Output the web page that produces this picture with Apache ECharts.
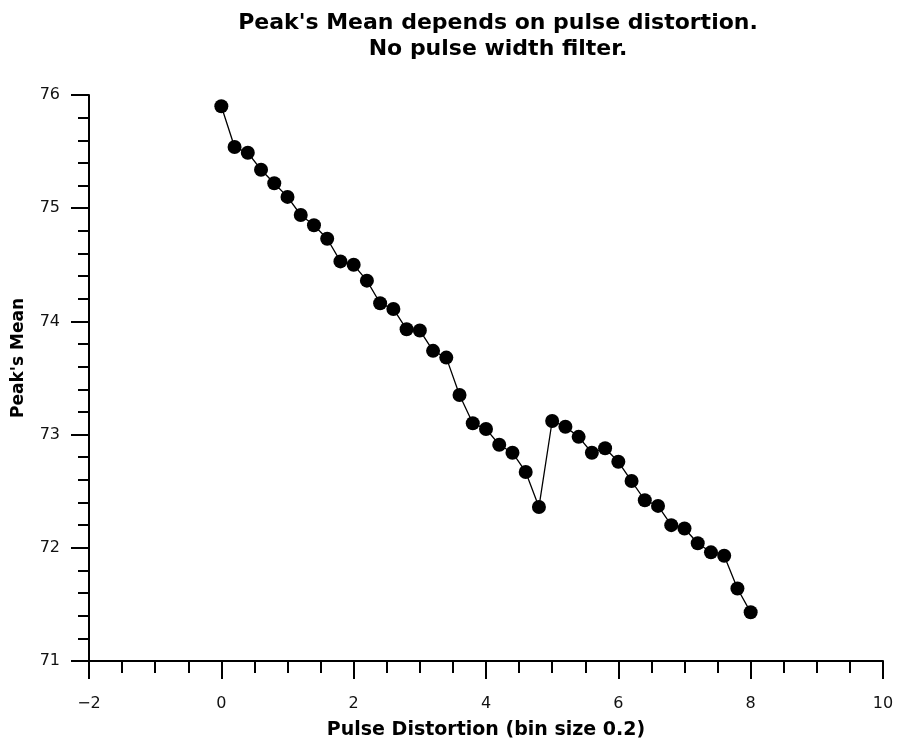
<!DOCTYPE html>
<html>
<head>
<meta charset="utf-8">
<script src="https://cdn.jsdelivr.net/npm/echarts@6/dist/echarts.min.js"></script>
<style>
  html, body { margin: 0; padding: 0; background: #fff; }
  #chart { width: 899px; height: 749px; }
</style>
</head>
<body>
<div id="chart"></div>
<script>
var distortion = [0, 0.2, 0.4, 0.6, 0.8, 1.0, 1.2, 1.4, 1.6, 1.8, 2.0, 2.2, 2.4, 2.6, 2.8, 3.0,
    3.2, 3.4, 3.6, 3.8, 4.0, 4.2, 4.4, 4.6, 4.8, 5.0, 5.2, 5.4, 5.6, 5.8, 6.0, 6.2, 6.4,
    6.6, 6.8, 7.0, 7.2, 7.4, 7.6, 7.8, 8.0];
var peakMean = [75.90, 75.54, 75.49, 75.34, 75.22, 75.10, 74.94, 74.85, 74.73, 74.53, 74.50,
    74.36, 74.16, 74.11, 73.93, 73.92, 73.74, 73.68, 73.35, 73.10, 73.05, 72.91, 72.84,
    72.67, 72.36, 73.12, 73.07, 72.98, 72.84, 72.88, 72.76, 72.59, 72.42, 72.37, 72.20,
    72.17, 72.04, 71.96, 71.93, 71.64, 71.43];
var titleLines = ["Peak's Mean depends on pulse distortion.", "No pulse width filter."];

(function () {
    var chart = echarts.init(document.getElementById('chart'));
    var points = distortion.map(function (d, i) { return [d, peakMean[i]]; });
    var font = 'Tahoma, "DejaVu Sans", sans-serif';

    var option = {
        animation: false,
        title: {
            text: titleLines.join('\n'),
            left: 493,
            top: 5,
            textAlign: 'center',
            textStyle: {
                fontFamily: font,
                fontSize: 22,
                fontWeight: 'bold',
                color: '#000',
                lineHeight: 26
            }
        },
        grid: {
            left: 89,
            right: 16,
            top: 95,
            bottom: 88
        },
        xAxis: {
            type: 'value',
            min: -2,
            max: 10,
            interval: 2,
            name: 'Pulse Distortion (bin size 0.2)',
            nameLocation: 'middle',
            nameGap: 60,
            nameTextStyle: { fontFamily: font, fontSize: 19, fontWeight: 'bold', color: '#000' },
            axisLine: { onZero: false, lineStyle: { color: '#000', width: 2 } },
            axisTick: { inside: false, length: 18, lineStyle: { color: '#000', width: 2 } },
            minorTick: { show: true, splitNumber: 4, length: 12, lineStyle: { color: '#000', width: 2 } },
            splitLine: { show: false },
            axisLabel: {
                fontFamily: font, fontSize: 16, color: '#111', margin: 35,
                formatter: function (v) { return String(v).replace('-', '\u2212'); }
            }
        },
        yAxis: {
            type: 'value',
            position: 'left',
            min: 71,
            max: 76,
            interval: 1,
            name: "Peak's Mean",
            nameLocation: 'middle',
            nameGap: 62,
            nameTextStyle: { fontFamily: font, fontSize: 17, fontWeight: 'bold', color: '#000', padding: [0, 0, 0, 40] },
            axisLine: { show: true, onZero: false, lineStyle: { color: '#000', width: 2 } },
            axisTick: { show: true, inside: false, length: 18, lineStyle: { color: '#000', width: 2 } },
            minorTick: { show: true, splitNumber: 5, length: 11, lineStyle: { color: '#000', width: 2 } },
            splitLine: { show: false },
            axisLabel: { fontFamily: font, fontSize: 16, color: '#111', margin: 29 }
        },
        series: [{
            type: 'line',
            data: points,
            symbol: 'circle',
            symbolSize: 14,
            itemStyle: { color: '#000' },
            lineStyle: { color: '#000', width: 1.3 }
        }]
    };
    chart.setOption(option);
    window.onresize = chart.resize;
})();
</script>
</body>
</html>
